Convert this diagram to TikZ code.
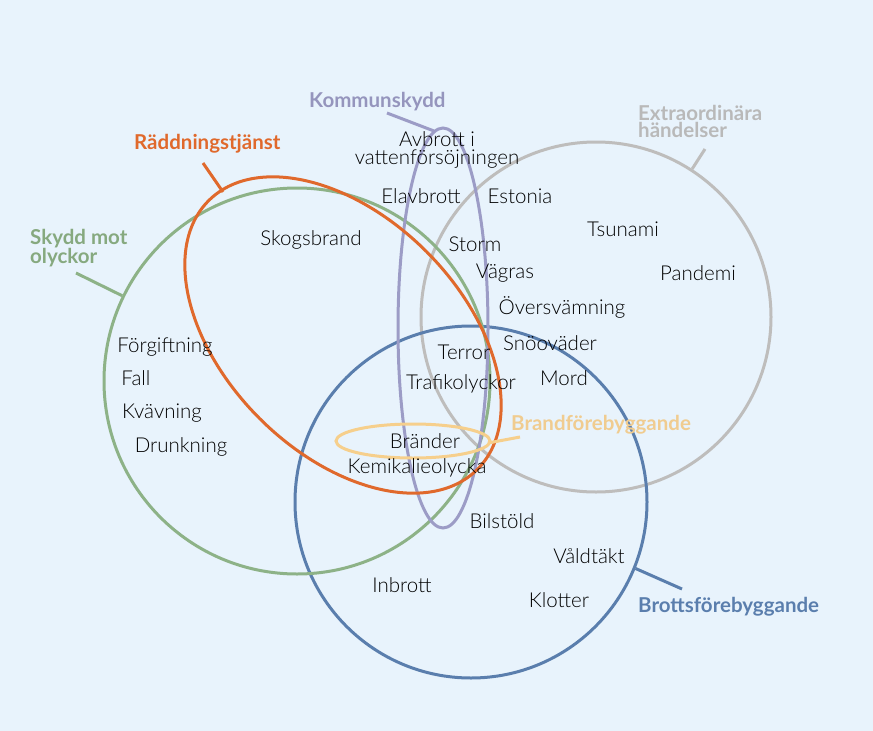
\documentclass[tikz,border=0pt]{standalone}
\usepackage{fontspec}
\setmainfont{Carlito}
\newfontfamily\itemfont{Lato Light}
\newfontfamily\labfont{Lato}
\definecolor{bgc}{HTML}{E8F3FC}
\definecolor{cgreen}{HTML}{8DB287}
\definecolor{corange}{HTML}{E0692C}
\definecolor{cpurple}{HTML}{9C9CC6}
\definecolor{cgray}{HTML}{BEBDBC}
\definecolor{cblue}{HTML}{5A7EAD}
\definecolor{cyellow}{HTML}{F6CF8C}
\definecolor{lgreen}{HTML}{86A97F}
\definecolor{lpurple}{HTML}{9595BD}
\definecolor{lgray}{HTML}{B9B9B9}
\definecolor{lyellow}{HTML}{F0CC90}
\begin{document}
\begin{tikzpicture}[x=1pt,y=1pt,
  ring/.style={line width=3pt},
  ringnode/.style={circle,draw,line width=3pt,inner sep=0pt},
  item/.style={font=\itemfont\fontsize{20.5}{18}\selectfont,text=black,inner sep=0pt},
  grouplabel/.style={font=\labfont\bfseries\fontsize{20.5}{17}\selectfont,inner sep=0pt,align=left},
  pointer/.style={line width=3pt}]
\fill[bgc] (0,0) rectangle (873,-731);
\useasboundingbox (0,0) rectangle (873,-731);
% circles
\node[ringnode,draw=cgray,minimum size=350pt] (gray) at (596,-317) {};
\node[ringnode,draw=cblue,minimum size=352pt] (blue) at (471,-502) {};
\node[ringnode,draw=cgreen,minimum size=386pt] (green) at (297,-381) {};
\coordinate (pc) at (443,-328);
\draw[ring,cpurple] (pc) ellipse[x radius=45pt,y radius=200pt];
\coordinate (oc) at (343,-335);
\draw[ring,corange,rotate around={-45:(oc)}] (oc) ellipse[x radius=190pt,y radius=118pt];
\coordinate (yc) at (413,-441);
\draw[ring,cyellow] (yc) ellipse[x radius=77pt,y radius=17pt];
% labels
\node[grouplabel,text=lpurple,anchor=west] (lk) at (309,-102) {Kommunskydd};
\node[grouplabel,text=corange,anchor=west] (lr) at (134,-144) {Räddningstjänst};
\node[grouplabel,text=lgreen,anchor=west] (ls) at (30,-248) {Skydd mot\\olyckor};
\node[grouplabel,text=lgray,anchor=west] (le) at (638,-121) {Extraordinära\\händelser};
\node[grouplabel,text=lyellow,anchor=west] (lbf) at (511,-425) {Brandförebyggande};
\node[grouplabel,text=cblue,anchor=west] (lb) at (638,-607) {Brottsförebyggande};
% pointers
\coordinate (k1) at (387,-113); \coordinate (k2) at (434,-131);
\draw[pointer,cpurple] (k1) -- (k2);
\coordinate (r1) at (203,-163); \coordinate (r2) at (223,-192);
\draw[pointer,corange] (r1) -- (r2);
\coordinate (s1) at (76,-273);
\draw[pointer,cgreen] (s1) -- (green.154);
\coordinate (e1) at (705,-149);
\draw[pointer,cgray] (e1) -- (gray.57);
\coordinate (b1) at (682,-589);
\draw[pointer,cblue] (b1) -- (blue.-22);
\coordinate (y1) at (520,-437); \coordinate (y2) at (488,-443);
\draw[pointer,cyellow] (y1) -- (y2);
% items
\node[item,align=center] (t1) at (437,-150) {Avbrott i\\vattenförsöjningen};
\node[item] (t2) at (421,-196) {Elavbrott};
\node[item] (t3) at (520,-196) {Estonia};
\node[item] (t4) at (311,-240) {Skogsbrand};
\node[item] (t5) at (475,-244) {Storm};
\node[item] (t6) at (623,-229) {Tsunami};
\node[item] (t7) at (505,-273) {Vägras};
\node[item] (t8) at (698,-273) {Pandemi};
\node[item] (t9) at (562,-307) {Översvämning};
\node[item] (t10) at (165,-347) {Förgiftning};
\node[item] (t11) at (550,-343) {Snöoväder};
\node[item] (t12) at (464,-352) {Terror};
\node[item] (t13) at (136,-378) {Fall};
\node[item] (t14) at (564,-378) {Mord};
\node[item] (t15) at (461,-384) {Trafikolyckor};
\node[item] (t16) at (162,-413) {Kvävning};
\node[item] (t17) at (425,-441) {Bränder};
\node[item] (t18) at (181,-447) {Drunkning};
\node[item] (t19) at (417,-468) {Kemikalieolycka};
\node[item] (t20) at (502,-521) {Bilstöld};
\node[item] (t21) at (589,-556) {Våldtäkt};
\node[item] (t22) at (402,-585) {Inbrott};
\node[item] (t23) at (559,-600) {Klotter};
\end{tikzpicture}
\end{document}
